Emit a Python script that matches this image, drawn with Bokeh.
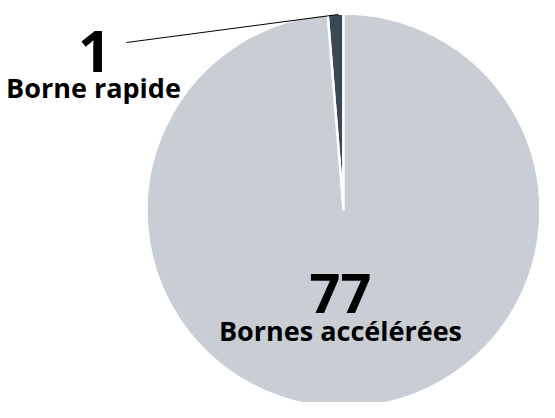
import math
import pandas as pd
from bokeh.plotting import figure
from bokeh.models import ColumnDataSource, Range1d
from bokeh.core.properties import value
from bokeh.embed import file_html
from bokeh.resources import INLINE

# ---- data ----
categories = ["Borne rapide", "Bornes accélérées"]
counts = [1, 77]
colors = ["#3c4853", "#c8ced3"]

W, H = 539, 402
FONT = "Open Sans"

df = pd.DataFrame({"cat": categories, "count": counts, "color": colors})
total = df["count"].sum()
frac = df["count"] / total
cum = frac.cumsum()
df["start"] = math.pi / 2 + 2 * math.pi * (cum - frac)
df["end"] = math.pi / 2 + 2 * math.pi * cum
src = ColumnDataSource(df)

p = figure(width=W, height=H, output_backend="svg", toolbar_location=None,
           x_range=Range1d(0, W), y_range=Range1d(0, H), min_border=0)
p.axis.visible = False
p.grid.visible = False
p.outline_line_color = None
p.background_fill_color = "white"

cx, cy, r = 343, 192, 197
p.wedge(x=cx, y=cy, radius=r, start_angle="start", end_angle="end",
        direction="anticlock", fill_color="color", line_color="white",
        line_width=2.5, source=src)

# leader line for the small slice
p.line(x=[126, 338], y=[360, 388], line_color="black", line_width=1)

# labels
p.text(x=[94], y=[351], text=[str(counts[0])], text_align="center",
       text_baseline="alphabetic", text_font=value(FONT), text_font_style="bold",
       text_font_size="58px", text_color="black")
p.text(x=[93], y=[315], text=[categories[0]], text_align="center",
       text_baseline="alphabetic", text_font=value(FONT), text_font_style="bold",
       text_font_size="27px", text_color="black")
p.text(x=[340], y=[109], text=[str(counts[1])], text_align="center",
       text_baseline="alphabetic", text_font=value(FONT), text_font_style="bold",
       text_font_size="54px", text_color="black")
p.text(x=[340], y=[72], text=[categories[1]], text_align="center",
       text_baseline="alphabetic", text_font=value(FONT), text_font_style="bold",
       text_font_size="27px", text_color="black")

open("out.html", "w").write(file_html(p, INLINE))
